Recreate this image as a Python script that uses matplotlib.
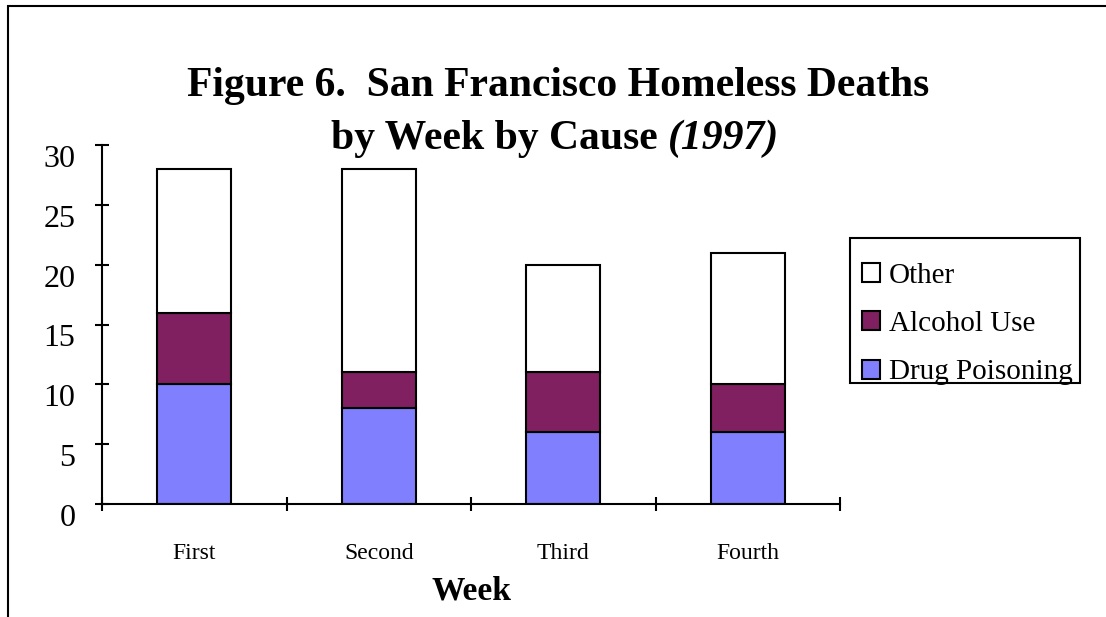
import matplotlib
matplotlib.use('Agg')
import matplotlib.pyplot as plt
import numpy as np
from matplotlib.patches import Patch, Rectangle

plt.rcParams['font.family'] = ['Liberation Serif', 'DejaVu Serif']

weeks = ['First', 'Second', 'Third', 'Fourth']
drug = [10, 8, 6, 6]
alcohol = [6, 3, 5, 4]
other = [12, 17, 9, 11]

c_drug = '#8080FF'
c_alcohol = '#802060'
c_other = '#FFFFFF'

W, H = 1106, 617
fig = plt.figure(figsize=(W/100, H/100), dpi=100)
ax = fig.add_axes([102/W, 1 - 504/H, (840 - 102)/W, (504 - 145)/H])

x = np.arange(len(weeks))
w = 0.4
kw = dict(width=w, edgecolor='black', linewidth=1.5)
ax.bar(x, drug, color=c_drug, **kw)
ax.bar(x, alcohol, bottom=drug, color=c_alcohol, **kw)
bottom2 = np.array(drug) + np.array(alcohol)
ax.bar(x, other, bottom=bottom2, color=c_other, **kw)

ax.set_xlim(-0.5, len(weeks) - 0.5)
ax.set_ylim(0, 30)
ax.set_yticks(range(0, 31, 5))
# major ticks sit between categories, names go on minor ticks
ax.set_xticks(np.arange(-0.5, len(weeks), 1.0))
ax.set_xticklabels([])
ax.set_xticks(x, minor=True)
ax.set_xticklabels(weeks, minor=True, fontsize=17)
ax.tick_params(axis='x', which='minor', length=0, pad=28)
ax.tick_params(axis='both', which='major', direction='inout', length=10, width=1.5)
ax.tick_params(axis='y', labelsize=23, pad=14)
for lab in ax.get_yticklabels():
    lab.set_va('top')

for s in ['top', 'right']:
    ax.spines[s].set_visible(False)
for s in ['left', 'bottom']:
    ax.spines[s].set_linewidth(1.5)

ax.set_xlabel('Week', fontsize=24, fontweight='bold', labelpad=8)

# two-line title, second line has an italic year
fig.text(558/W, 1 - 86/H, 'Figure 6.  San Francisco Homeless Deaths',
         ha='center', va='center', fontsize=30, fontweight='bold')
fig.canvas.draw()
r = fig.canvas.get_renderer()
t1 = fig.text(0, 0, 'by Week by Cause ', fontsize=30, fontweight='bold')
t2 = fig.text(0, 0, '(1997)', fontsize=30, fontweight='bold', style='italic')
w1 = t1.get_window_extent(r).width
w2 = t2.get_window_extent(r).width
x0 = 555 - (w1 + w2) / 2
yl = 1 - 139/H
t1.set_position((x0/W, yl))
t1.set_va('center')
t2.set_position(((x0 + w1)/W, yl))
t2.set_va('center')

handles = [Patch(facecolor=c_other, edgecolor='black', linewidth=1.5, label='Other'),
           Patch(facecolor=c_alcohol, edgecolor='black', linewidth=1.5, label='Alcohol Use'),
           Patch(facecolor=c_drug, edgecolor='black', linewidth=1.5, label='Drug Poisoning')]
leg = fig.legend(handles=handles, loc='upper left',
                 bbox_to_anchor=(862/W, 1 - 263/H), fontsize=21,
                 frameon=False, handlelength=0.62, handleheight=0.62,
                 handletextpad=0.3, labelspacing=0.76, borderpad=0,
                 borderaxespad=0)

# legend box drawn on its own; the last label runs over its lower edge
fig.patches.append(Rectangle((850/W, 1 - 383/H), 230/W, 145/H, transform=fig.transFigure,
                             fill=False, edgecolor='black', linewidth=1.5))

# outer border, clipped by the image edges
fig.patches.append(Rectangle((8/W, -0.1), 1.2, 1.1 - 6/H, transform=fig.transFigure,
                             fill=False, edgecolor='black', linewidth=1.5))

fig.savefig('out.png', dpi=100)
